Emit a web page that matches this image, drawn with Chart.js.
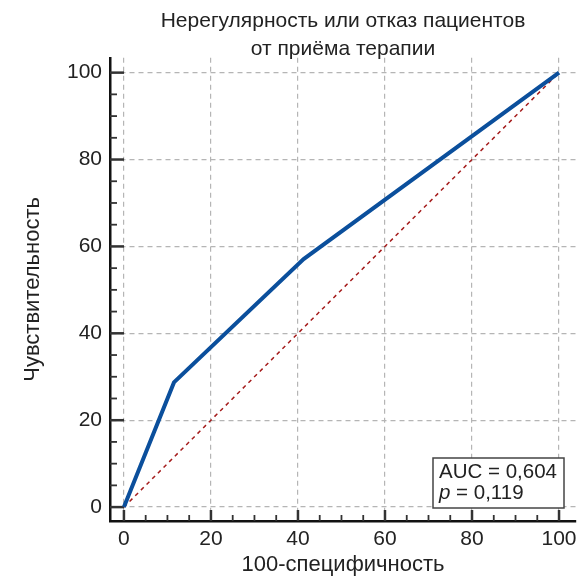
<!DOCTYPE html>
<html>
<head>
<meta charset="utf-8">
<script src="https://cdn.jsdelivr.net/npm/chart.js@4"></script>
<style>
  html, body { margin: 0; padding: 0; background: #fff; }
  #wrap { width: 577px; height: 577px; }
</style>
</head>
<body>
<div id="wrap"><canvas id="roc"></canvas></div>
<script>
// данные ROC-кривой
const fpr = [0, 11.5, 41.3, 100];   // 100-специфичность
const tpr = [0, 28.7, 57.1, 100];   // чувствительность
const diagX = [0, 100];
const diagY = [0, 100];
const tickVals = [0, 5, 10, 15, 20, 25, 30, 35, 40, 45, 50, 55, 60, 65, 70, 75, 80, 85, 90, 95, 100];
const titleLines = ['Нерегулярность или отказ пациентов', 'от приёма терапии'];
const statLines = ['AUC = 0,604', '0,119'];

const FONT = "'Liberation Sans', Arial, sans-serif";
const TXT = '#222';

function setTicks(scale) {
    scale.ticks = tickVals.map(v => ({ value: v }));
}

// внутренние засечки на осях
const innerTicks = {
    id: 'innerTicks',
    beforeDatasetsDraw(chart) {
        const ctx = chart.ctx;
        const xs = chart.scales.x, ys = chart.scales.y;
        const area = chart.chartArea;
        ctx.save();
        ctx.strokeStyle = '#333';
        tickVals.forEach(v => {
            const major = v % 20 === 0;
            ctx.lineWidth = major ? 2.5 : 1.8;
            const px = xs.getPixelForValue(v);
            ctx.beginPath();
            ctx.moveTo(px, area.bottom);
            ctx.lineTo(px, area.bottom - (major ? 11 : 6));
            ctx.stroke();
            const py = ys.getPixelForValue(v);
            ctx.beginPath();
            ctx.moveTo(area.left, py);
            ctx.lineTo(area.left + (major ? 14 : 7), py);
            ctx.stroke();
        });
        ctx.restore();
    }
};

// рамка с AUC
const statBox = {
    id: 'statBox',
    afterDraw(chart) {
        const ctx = chart.ctx;
        const a = chart.chartArea;
        const r = a.right - 12, b = a.bottom - 13;
        const w = 131, h = 50;
        ctx.save();
        ctx.fillStyle = '#fff';
        ctx.fillRect(r - w, b - h, w, h);
        ctx.strokeStyle = '#444';
        ctx.lineWidth = 1.5;
        ctx.strokeRect(r - w, b - h, w, h);
        ctx.fillStyle = TXT;
        ctx.textBaseline = 'middle';
        ctx.font = '20.5px ' + FONT;
        ctx.fillText(statLines[0], r - w + 6, b - h + 14);
        ctx.font = 'italic 20.5px ' + FONT;
        ctx.fillText('p', r - w + 6, b - h + 35);
        const pw = ctx.measureText('p').width;
        ctx.font = '20.5px ' + FONT;
        ctx.fillText(' = ' + statLines[1], r - w + 6 + pw, b - h + 35);
        ctx.restore();
    }
};

const gridColor = c => (c.tick && c.tick.value % 20 === 0) ? '#b5b5b5' : 'rgba(0,0,0,0)';

new Chart(document.getElementById('roc'), {
    type: 'scatter',
    data: {
        datasets: [
            {
                data: diagX.map((x, i) => ({ x: x, y: diagY[i] })),
                showLine: true,
                borderColor: '#a51c1c',
                borderWidth: 1.5,
                borderDash: [4, 4],
                pointRadius: 0,
                order: 2
            },
            {
                data: fpr.map((x, i) => ({ x: x, y: tpr[i] })),
                showLine: true,
                borderColor: '#0b4f9c',
                borderWidth: 4,
                pointRadius: 0,
                order: 1
            }
        ]
    },
    options: {
        responsive: true,
        maintainAspectRatio: false,
        animation: false,
        layout: { padding: { left: 10, right: 1, top: 0, bottom: 0 } },
        plugins: {
            legend: { display: false },
            tooltip: { enabled: false },
            title: {
                display: true,
                text: titleLines,
                fullSize: false,
                color: TXT,
                font: { family: FONT, size: 21, weight: 'normal', lineHeight: 1.33 },
                padding: { top: 7, bottom: -5 }
            }
        },
        scales: {
            x: {
                type: 'linear',
                min: -3.2,
                max: 103.9,
                afterBuildTicks: setTicks,
                afterFit(s) { s.height = 56; s.paddingLeft = 0; s.paddingRight = 0; },
                grid: { color: gridColor, lineWidth: 1.2, drawTicks: false },
                border: { display: true, color: '#111', width: 2.5, dash: [5, 4] },
                ticks: {
                    color: TXT,
                    padding: 6,
                    autoSkip: false,
                    maxRotation: 0,
                    font: { family: FONT, size: 21 },
                    callback: v => v % 20 === 0 ? String(v) : ''
                },
                title: {
                    display: true,
                    text: '100-специфичность',
                    color: TXT,
                    font: { family: FONT, size: 22, lineHeight: 1.1 },
                    padding: { top: 0, bottom: 0 }
                }
            },
            y: {
                type: 'linear',
                min: -3.2,
                max: 103.4,
                afterBuildTicks: setTicks,
                afterFit(s) { s.width = 100; s.paddingTop = 0; s.paddingBottom = 0; },
                grid: { color: gridColor, lineWidth: 1.2, drawTicks: false },
                border: { display: true, color: '#111', width: 2.5, dash: [5, 4] },
                ticks: {
                    color: TXT,
                    padding: 8,
                    autoSkip: false,
                    font: { family: FONT, size: 21 },
                    callback: v => v % 20 === 0 ? String(v) : ''
                },
                title: {
                    display: true,
                    text: 'Чувствительность',
                    color: TXT,
                    font: { family: FONT, size: 22 },
                    padding: { top: 10, bottom: 0 }
                }
            }
        }
    },
    plugins: [innerTicks, statBox]
});
</script>
</body>
</html>
